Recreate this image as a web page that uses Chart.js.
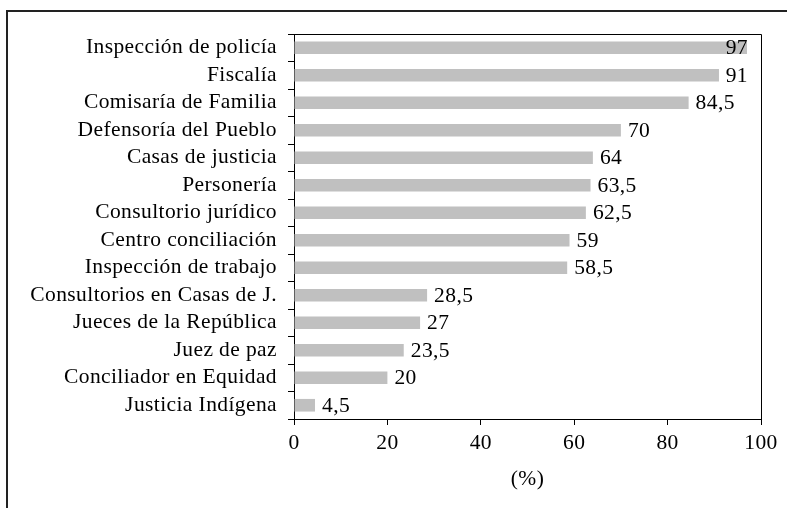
<!DOCTYPE html>
<html>
<head>
<meta charset="utf-8">
<script src="https://cdn.jsdelivr.net/npm/chart.js@4/dist/chart.umd.min.js"></script>
<style>
  html, body { margin: 0; padding: 0; background: #fff; }
  #wrap { position: relative; width: 787px; height: 508px; }
</style>
</head>
<body>
<div id="wrap"><canvas id="chart" width="787" height="508"></canvas></div>
<script>
var categories = [
	'Inspección de policía',
	'Fiscalía',
	'Comisaría de Familia',
	'Defensoría del Pueblo',
	'Casas de justicia',
	'Personería',
	'Consultorio jurídico',
	'Centro conciliación',
	'Inspección de trabajo',
	'Consultorios en Casas de J.',
	'Jueces de la República',
	'Juez de paz',
	'Conciliador en Equidad',
	'Justicia Indígena'
];
var values = [97, 91, 84.5, 70, 64, 63.5, 62.5, 59, 58.5, 28.5, 27, 23.5, 20, 4.5];
var xTicks = [0, 20, 40, 60, 80, 100];
var axisTitle = '(%)';

var serif = '"Liberation Serif", "Times New Roman", serif';
var fontSize = 21.5;

// outer frame, the box round the plot, and a little letter spacing like the original
var framePlugin = {
	id: 'frame',
	beforeDraw: function (chart) {
		var ctx = chart.ctx;
		ctx.letterSpacing = '0.4px';
		ctx.save();
		ctx.strokeStyle = '#222';
		ctx.lineWidth = 2;
		ctx.strokeRect(7, 11, 800, 600);
		ctx.restore();
	},
	afterDatasetsDraw: function (chart) {
		var ctx = chart.ctx;
		var a = chart.chartArea;
		ctx.save();
		ctx.strokeStyle = '#000';
		ctx.lineWidth = 1;
		ctx.beginPath();
		ctx.moveTo(a.left, a.top + 0.5);
		ctx.lineTo(a.right + 0.5, a.top + 0.5);
		ctx.lineTo(a.right + 0.5, a.bottom);
		ctx.stroke();
		ctx.restore();
	}
};

// value labels at the end of each bar
var valueLabels = {
	id: 'valueLabels',
	afterDatasetsDraw: function (chart) {
		var ctx = chart.ctx;
		var meta = chart.getDatasetMeta(0);
		var limit = chart.chartArea.right - 13;
		ctx.save();
		ctx.font = fontSize + 'px ' + serif;
		ctx.fillStyle = '#000';
		ctx.textBaseline = 'middle';
		ctx.textAlign = 'left';
		meta.data.forEach(function (bar, i) {
			var txt = String(values[i]).replace('.', ',');
			var w = ctx.measureText(txt).width;
			var x = bar.x + 7;
			if (x + w > limit) x = limit - w;
			ctx.fillText(txt, x, bar.y + 1);
		});
		ctx.restore();
	}
};

var ctx = document.getElementById('chart').getContext('2d');
var chart = new Chart(ctx, {
	type: 'bar',
	data: {
		labels: categories,
		datasets: [{
			data: values,
			backgroundColor: '#c0c0c0',
			borderWidth: 0,
			barPercentage: 0.46,
			categoryPercentage: 1
		}]
	},
	options: {
		indexAxis: 'y',
		responsive: false,
		animation: false,
		layout: { padding: { top: 34, right: 26, bottom: 0, left: 0 } },
		plugins: {
			legend: { display: false },
			tooltip: { enabled: false }
		},
		scales: {
			x: {
				min: 0,
				max: 100,
				afterBuildTicks: function (scale) {
					scale.ticks = xTicks.map(function (v) { return { value: v }; });
				},
				afterFit: function (scale) { scale.height = 89; },
				grid: { drawOnChartArea: false, tickLength: 6, color: '#000' },
				border: { color: '#000', width: 1 },
				ticks: { color: '#000', font: { family: serif, size: fontSize }, padding: 5, maxRotation: 0 },
				title: {
					display: true,
					text: axisTitle,
					color: '#000',
					font: { family: serif, size: fontSize },
					padding: { top: 0, bottom: 16 }
				}
			},
			y: {
				afterFit: function (scale) { scale.width = 294; },
				grid: { drawOnChartArea: false, offset: true, tickLength: 6, color: '#000' },
				border: { color: '#000', width: 1 },
				ticks: { color: '#000', font: { family: serif, size: fontSize }, padding: 11, autoSkip: false }
			}
		}
	},
	plugins: [framePlugin, valueLabels]
});
</script>
</body>
</html>
